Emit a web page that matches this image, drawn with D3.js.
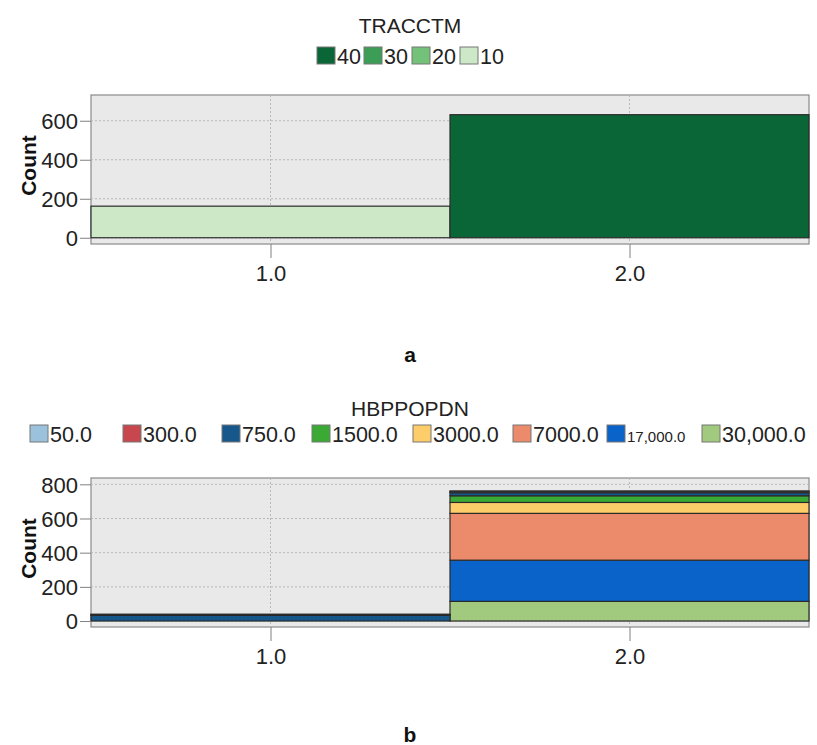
<!DOCTYPE html>
<html>
<head>
<meta charset="utf-8">
<script src="https://cdn.jsdelivr.net/npm/d3@7"></script>
<style>
  body { margin: 0; background: #fff; }
  svg { font-family: "Liberation Sans", Arial, sans-serif; }
  .tick line { stroke: #808080; }
  .tick text { font-size: 22px; fill: #222; }
</style>
</head>
<body>
<svg id="chart" width="817" height="745"></svg>
<script>
// categories on the x axis
const categories = [1, 2];
const catLabels = ['1.0', '2.0'];

// panel a: TRACCTM
const traKeys = ['40', '30', '20', '10'];
const traColors = ['#0b6637', '#3c9e56', '#74c27a', '#cde8c6'];
const tra40 = [0, 631];
const tra30 = [0, 0];
const tra20 = [0, 0];
const tra10 = [162, 0];
const traTicks = [0, 200, 400, 600];

// panel b: HBPPOPDN
const hbpKeys = ['50.0', '300.0', '750.0', '1500.0', '3000.0', '7000.0', '17,000.0', '30,000.0'];
const hbpColors = ['#9bc1dc', '#c8474f', '#17588c', '#3aaa35', '#fdcd6a', '#ec8b6b', '#0a63c9', '#a1ca7e'];
const hbp50 = [3, 2];
const hbp300 = [4, 8];
const hbp750 = [33, 18];
const hbp1500 = [0, 39];
const hbp3000 = [0, 64];
const hbp7000 = [0, 274];
const hbp17000 = [0, 241];
const hbp30000 = [0, 115];
const hbpTicks = [0, 200, 400, 600, 800];

const svg = d3.select('#chart');

function drawPanel(opt) {
    const g = svg.append('g');
    const x = d3.scaleLinear().domain([0.5, 2.5]).range([91, 809]);
    const y = d3.scaleLinear().domain(opt.domain).range([opt.bottom, opt.top]);

    // title
    g.append('text')
        .attr('x', 410).attr('y', opt.titleY)
        .attr('text-anchor', 'middle')
        .style('font-size', '21px').style('fill', '#222')
        .text(opt.title);

    // legend
    const leg = g.append('g');
    opt.keys.forEach((k, i) => {
        const lx = opt.legendX[i];
        leg.append('rect')
            .attr('x', lx).attr('y', opt.legendY - 17)
            .attr('width', 18).attr('height', 17)
            .attr('fill', opt.colors[i])
            .attr('stroke', '#777').attr('stroke-width', 1);
        leg.append('text')
            .attr('x', lx + 20).attr('y', opt.legendY)
            .style('font-size', (opt.small && opt.small[i]) ? '15px' : '21.5px')
            .style('fill', '#222')
            .text(k);
    });

    // plot background
    g.append('rect')
        .attr('x', 91).attr('y', opt.top)
        .attr('width', 718).attr('height', opt.bottom - opt.top)
        .attr('fill', '#e9e9e9')
        .attr('stroke', '#8a8a8a').attr('stroke-width', 1.2);

    // grid
    g.selectAll('.hgrid').data(opt.ticks).enter().append('line')
        .attr('x1', 91).attr('x2', 809)
        .attr('y1', d => y(d)).attr('y2', d => y(d))
        .attr('stroke', '#b8b8b8').attr('stroke-dasharray', '2,2');
    g.selectAll('.vgrid').data(categories).enter().append('line')
        .attr('x1', d => x(d)).attr('x2', d => x(d))
        .attr('y1', opt.top).attr('y2', opt.bottom)
        .attr('stroke', '#b8b8b8').attr('stroke-dasharray', '2,2');

    // stacked bars
    const rows = categories.map((c, j) => {
        const r = { cat: c };
        opt.keys.forEach((k, i) => { r[k] = opt.series[i][j]; });
        return r;
    });
    const stackOrder = opt.keys.slice().reverse();
    const stacked = d3.stack().keys(stackOrder)(rows);
    stacked.forEach(layer => {
        const col = opt.colors[opt.keys.indexOf(layer.key)];
        g.selectAll(null).data(layer.filter(d => d[1] - d[0] > 0)).enter().append('rect')
            .attr('x', d => x(d.data.cat - 0.5))
            .attr('width', x(1.5) - x(0.5))
            .attr('y', d => y(d[1]))
            .attr('height', d => y(d[0]) - y(d[1]))
            .attr('fill', col)
            .attr('stroke', '#2a2a2a').attr('stroke-width', 1.2);
    });

    // y axis
    const yAxis = d3.axisLeft(y).tickValues(opt.ticks).tickSize(11).tickPadding(2).tickFormat(d3.format('d'));
    g.append('g').attr('transform', 'translate(91,0)').call(yAxis)
        .call(a => a.select('.domain').remove())
        .selectAll('text').attr('dy', '0.36em');

    // y label
    g.append('text')
        .attr('transform', `translate(36,${(opt.top + opt.bottom) / 2 - 4}) rotate(-90)`)
        .attr('text-anchor', 'middle')
        .style('font-size', '21px').style('font-weight', 'bold').style('fill', '#111')
        .text('Count');

    // x axis
    const xAxis = d3.axisBottom(x).tickValues(categories).tickSize(14).tickPadding(7)
        .tickFormat((d, i) => catLabels[i]);
    g.append('g').attr('transform', `translate(0,${opt.bottom})`).call(xAxis)
        .call(a => a.select('.domain').remove());

    // caption
    g.append('text')
        .attr('x', 410).attr('y', opt.captionY)
        .attr('text-anchor', 'middle')
        .style('font-size', '21px').style('font-weight', 'bold').style('fill', '#111')
        .text(opt.caption);
}

drawPanel({
    title: 'TRACCTM', titleY: 33,
    keys: traKeys, colors: traColors,
    series: [tra40, tra30, tra20, tra10],
    legendX: [317, 364, 412, 460], legendY: 64,
    top: 95, bottom: 244, domain: [-32, 732], ticks: traTicks,
    caption: 'a', captionY: 362
});

drawPanel({
    title: 'HBPPOPDN', titleY: 416,
    keys: hbpKeys, colors: hbpColors,
    series: [hbp50, hbp300, hbp750, hbp1500, hbp3000, hbp7000, hbp17000, hbp30000],
    small: [false, false, false, false, false, false, true, false],
    legendX: [30, 123, 222, 312, 413, 513, 607, 702], legendY: 442,
    top: 478, bottom: 627, domain: [-35, 837], ticks: hbpTicks,
    caption: 'b', captionY: 742
});
</script>
</body>
</html>
